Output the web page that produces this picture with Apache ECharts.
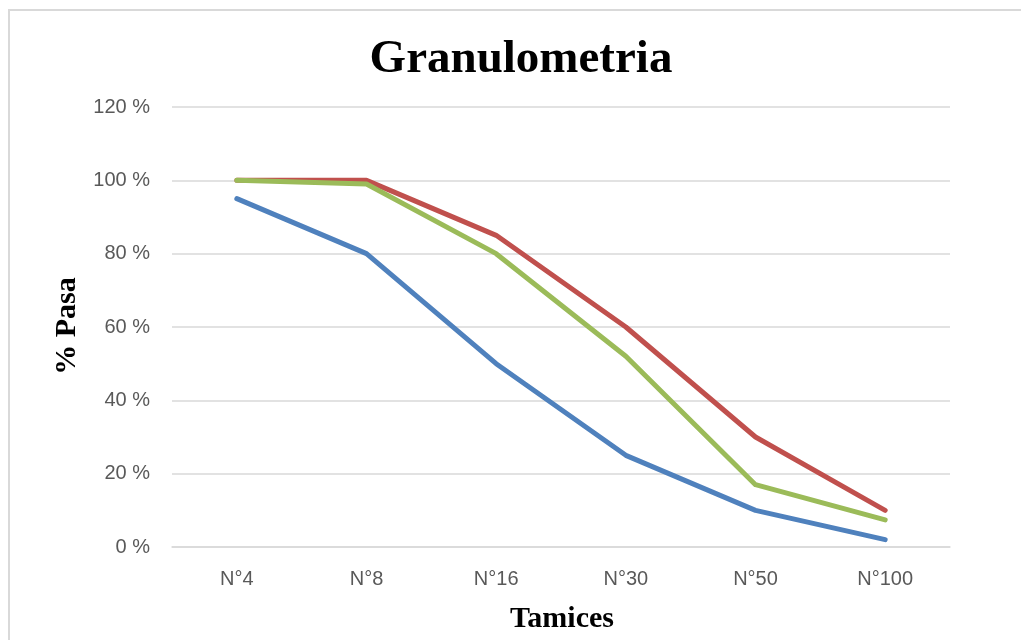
<!DOCTYPE html>
<html>
<head>
<meta charset="utf-8">
<script src="https://cdn.jsdelivr.net/npm/echarts@6/dist/echarts.min.js"></script>
<style>
html,body{margin:0;padding:0;background:#fff;}
#chart{width:1021px;height:640px;}
</style>
</head>
<body>
<div id="chart"></div>
<script>
const categories = ['N°4', 'N°8', 'N°16', 'N°30', 'N°50', 'N°100'];
const seriesBlue = [95, 80, 50, 25, 10, 2];
const seriesRed = [100, 100, 85, 60, 30, 10];
const seriesGreen = [100, 99, 80, 52, 17, 7.4];
const yTicks = { min: 0, max: 120, interval: 20 };

const chart = echarts.init(document.getElementById('chart'), null, { renderer: 'canvas' });
const serif = '"Liberation Serif", "Times New Roman", serif';
const sans = '"Liberation Sans", Arial, sans-serif';

function line(name, data, color) {
  return {
    name: name, type: 'line', data: data, symbol: 'none', smooth: false,
    lineStyle: { color: color, width: 5, cap: 'round', join: 'round' },
    itemStyle: { color: color }
  };
}

chart.setOption({
  animation: false,
  backgroundColor: '#ffffff',
  grid: { left: 172, right: 71, top: 107, bottom: 93, containLabel: false },
  xAxis: {
    type: 'category', data: categories, boundaryGap: true,
    axisLine: { show: true, lineStyle: { color: '#d9d9d9', width: 1.5 } },
    axisTick: { show: false },
    axisLabel: { color: '#595959', fontSize: 20, fontFamily: sans, margin: 22 },
    splitLine: { show: false }
  },
  yAxis: {
    type: 'value', min: yTicks.min, max: yTicks.max, interval: yTicks.interval,
    axisLine: { show: false }, axisTick: { show: false },
    axisLabel: { color: '#595959', fontSize: 20, fontFamily: sans, margin: 22, formatter: '{value} %' },
    splitLine: { show: true, lineStyle: { color: '#d9d9d9', width: 1.5 } }
  },
  series: [
    line('Serie 1', seriesBlue, '#4F81BD'),
    line('Serie 2', seriesRed, '#C0504D'),
    line('Serie 3', seriesGreen, '#9BBB59')
  ],
  graphic: [
    { type: 'rect', silent: true, shape: { x: 9, y: 10, width: 1100, height: 700 },
      style: { fill: 'none', stroke: '#d9d9d9', lineWidth: 2 } },
    { type: 'text', silent: true, x: 521, y: 60,
      style: { text: 'Granulometria', font: 'bold 47px ' + serif, fill: '#000', align: 'center', verticalAlign: 'middle' } },
    { type: 'text', silent: true, x: 562, y: 619,
      style: { text: 'Tamices', font: 'bold 30px ' + serif, fill: '#000', align: 'center', verticalAlign: 'middle' } },
    { type: 'text', silent: true, x: 67, y: 326, rotation: Math.PI / 2,
      style: { text: '% Pasa', font: 'bold 30px ' + serif, fill: '#000', align: 'center', verticalAlign: 'middle' } }
  ]
});
</script>
</body>
</html>
